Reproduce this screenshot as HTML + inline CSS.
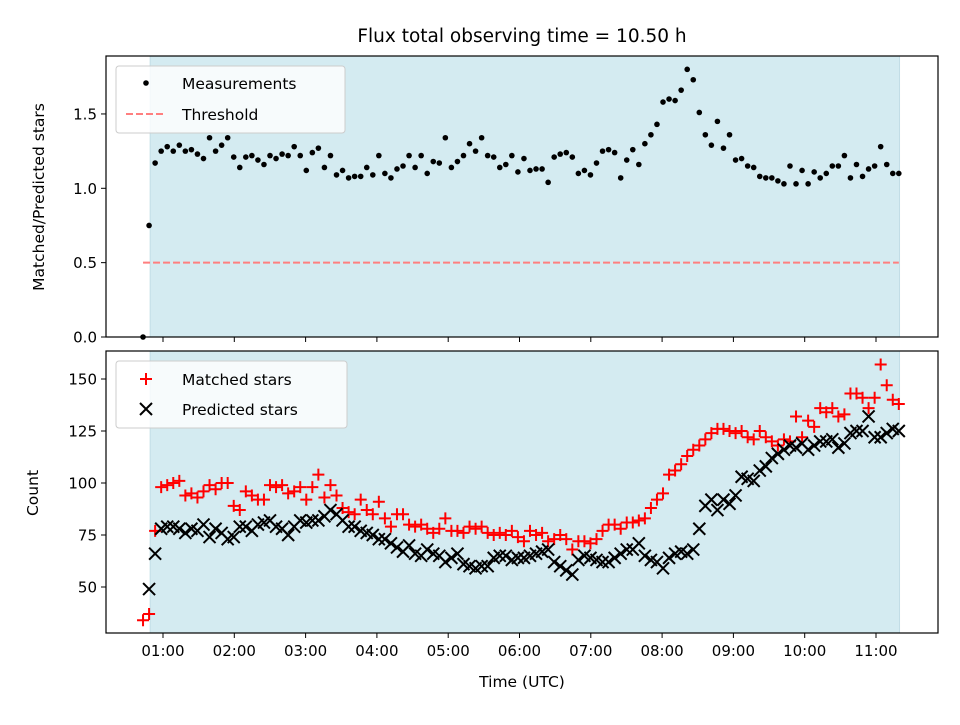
<!DOCTYPE html>
<html><head><meta charset="utf-8"><style>
body{margin:0;background:#fff}
svg{font-family:"DejaVu Sans","Liberation Sans",sans-serif}
</style></head><body>
<svg id="chart" width="960" height="720" viewBox="0 0 960 720" xmlns="http://www.w3.org/2000/svg"></svg>
<script>
const tStart = 0.72;
const tStep = 0.0848;
const ratio = [0,0.75,1.17,1.25,1.28,1.25,1.29,1.25,1.26,1.23,1.20,1.34,1.25,1.29,1.34,1.21,1.14,1.21,1.22,1.19,1.16,1.22,1.20,1.23,1.22,1.28,1.22,1.12,1.24,1.27,1.14,1.22,1.09,1.12,1.07,1.08,1.08,1.14,1.09,1.22,1.10,1.07,1.13,1.15,1.22,1.14,1.22,1.10,1.18,1.17,1.34,1.14,1.18,1.22,1.30,1.25,1.34,1.22,1.21,1.14,1.16,1.22,1.11,1.20,1.12,1.13,1.13,1.04,1.21,1.23,1.24,1.21,1.10,1.12,1.09,1.17,1.25,1.26,1.24,1.07,1.19,1.26,1.16,1.30,1.36,1.43,1.58,1.60,1.59,1.66,1.80,1.73,1.51,1.36,1.29,1.45,1.27,1.36,1.19,1.20,1.15,1.14,1.08,1.07,1.07,1.05,1.03,1.15,1.03,1.12,1.03,1.11,1.07,1.10,1.15,1.15,1.22,1.07,1.16,1.08,1.13,1.15,1.28,1.16,1.10,1.10];
const matched = [34,37,77,98,99,100,101,94,95,93,96,99,97,100,100,89,87,96,94,92,92,99,98,99,95,96,98,92,98,104,93,99,94,88,86,85,92,87,85,91,83,79,85,85,80,79,80,78,76,78,83,77,77,76,79,78,79,76,75,76,75,77,74,72,77,75,76,72,73,75,73,68,72,72,71,73,77,80,80,78,81,81,82,83,88,92,95,104,106,109,113,116,118,121,124,126,126,125,124,125,122,121,125,122,120,118,121,120,132,122,130,127,136,134,136,132,133,143,143,141,136,141,157,147,140,138];
const predicted = [null,49,66,78,79,79,78,76,78,77,80,74,78,76,73,74,79,79,77,80,81,82,79,78,75,79,82,81,82,82,84,87,85,82,79,79,77,76,75,73,73,71,69,67,70,66,65,68,66,65,62,64,66,61,60,59,60,60,64,65,65,63,64,64,65,66,67,68,62,60,58,56,63,65,64,63,62,62,64,66,68,68,71,65,63,62,59,64,66,67,66,68,78,89,92,87,92,90,94,103,102,101,106,108,112,114,116,118,117,119,116,118,120,120,121,117,119,124,125,125,132,122,122,124,126,125];
const xTickLabels = ["01:00","02:00","03:00","04:00","05:00","06:00","07:00","08:00","09:00","10:00","11:00"];
const xTickHours = [1,2,3,4,5,6,7,8,9,10,11];
const topYTicks = [0,0.5,1.0,1.5];
const botYTicks = [50,75,100,125,150];
const threshold = 0.5;
const shadeStart = 0.82, shadeEnd = 11.33;

const NS="http://www.w3.org/2000/svg";
const svg=document.getElementById('chart');
function el(tag,attrs,parent){const e=document.createElementNS(NS,tag);for(const k in attrs)e.setAttribute(k,attrs[k]);(parent||svg).appendChild(e);return e;}
const L=106,R=938;
const xs=h=>163+(h-1)*71.3;
const yTop=v=>337-v*148.7;
const yBot=v=>587-(v-50)*2.08;
const panels=[{t:56,b:337,name:'top'},{t:351,b:633,name:'bottom'}];

panels.forEach(p=>{
  const r=el('rect',{x:xs(shadeStart),y:p.t,width:xs(shadeEnd)-xs(shadeStart),height:p.b-p.t,fill:'#d4ebf1',stroke:'#c2dde6'});
  
  
});
const th=el('line',{x1:xs(tStart),x2:xs(tStart+tStep*(ratio.length-1)),y1:yTop(threshold),y2:yTop(threshold),stroke:'#ff7f7f','stroke-width':2,'stroke-dasharray':'7,3'});


ratio.forEach((v,i)=>{
  const c=el('circle',{cx:xs(tStart+i*tStep),cy:yTop(v),r:2.8,fill:'#000'});
  
  
});
matched.forEach((v,i)=>{
  if(v==null)return;
  const x=xs(tStart+i*tStep),y=yBot(v);
  const g=el('path',{d:`M${x-6},${y}H${x+6}M${x},${y-6}V${y+6}`,stroke:'#f00','stroke-width':2});
  
  
});
predicted.forEach((v,i)=>{
  if(v==null)return;
  const x=xs(tStart+i*tStep),y=yBot(v);
  const g=el('path',{d:`M${x-6},${y-6}L${x+6},${y+6}M${x-6},${y+6}L${x+6},${y-6}`,stroke:'#000','stroke-width':2});
  
  
});
panels.forEach(p=>{
  const f=el('rect',{x:L,y:p.t,width:R-L,height:p.b-p.t,fill:'none',stroke:'#000','stroke-width':1.2});
  
  
  xTickHours.forEach((h,i)=>{
    el('line',{x1:xs(h),x2:xs(h),y1:p.b,y2:p.b+5,stroke:'#000'});
    if(p.name==='bottom'){
      const t=el('text',{x:xs(h),y:p.b+23,'text-anchor':'middle','font-size':15});
      t.textContent=xTickLabels[i];
      
      
    }
  });
});
topYTicks.forEach(v=>{
  el('line',{x1:L-5,x2:L,y1:yTop(v),y2:yTop(v),stroke:'#000'});
  const t=el('text',{x:L-9,y:yTop(v)+5.5,'text-anchor':'end','font-size':15});
  t.textContent=v.toFixed(1);
  
  
});
botYTicks.forEach(v=>{
  el('line',{x1:L-5,x2:L,y1:yBot(v),y2:yBot(v),stroke:'#000'});
  const t=el('text',{x:L-9,y:yBot(v)+5.5,'text-anchor':'end','font-size':15});
  t.textContent=v;
  
  
});
</script>
<svg width="960" height="720" style="position:absolute;left:0;top:0" xmlns="http://www.w3.org/2000/svg" font-family="DejaVu Sans, Liberation Sans, sans-serif">
  <text x="522" y="42" text-anchor="middle" font-size="18.5">Flux total observing time = 10.50 h</text>
  <text transform="translate(44,197) rotate(-90)" text-anchor="middle" font-size="15.5">Matched/Predicted stars</text>
  <text transform="translate(38,493) rotate(-90)" text-anchor="middle" font-size="15.5">Count</text>
  <text x="522" y="687" text-anchor="middle" font-size="15.5">Time (UTC)</text>
  <g>
    <rect x="116" y="66" width="229" height="67" rx="3" fill="#fff" fill-opacity="0.8" stroke="#ccc"/>
    <circle cx="146" cy="83" r="2.8" fill="#000"/>
    <text x="182" y="89" font-size="15.5">Measurements</text>
    <line x1="126" x2="166" y1="114" y2="114" stroke="#ff7f7f" stroke-width="2" stroke-dasharray="7,3"/>
    <text x="182" y="120" font-size="15.5">Threshold</text>
  </g>
  <g>
    <rect x="116" y="361" width="231" height="67" rx="3" fill="#fff" fill-opacity="0.8" stroke="#ccc"/>
    <path d="M140,379H152M146,373V385" stroke="#f00" stroke-width="2"/>
    <text x="182" y="385" font-size="15.5">Matched stars</text>
    <path d="M140,403L152,415M140,415L152,403" stroke="#000" stroke-width="2"/>
    <text x="182" y="415" font-size="15.5">Predicted stars</text>
  </g>
</svg>
</body></html>
